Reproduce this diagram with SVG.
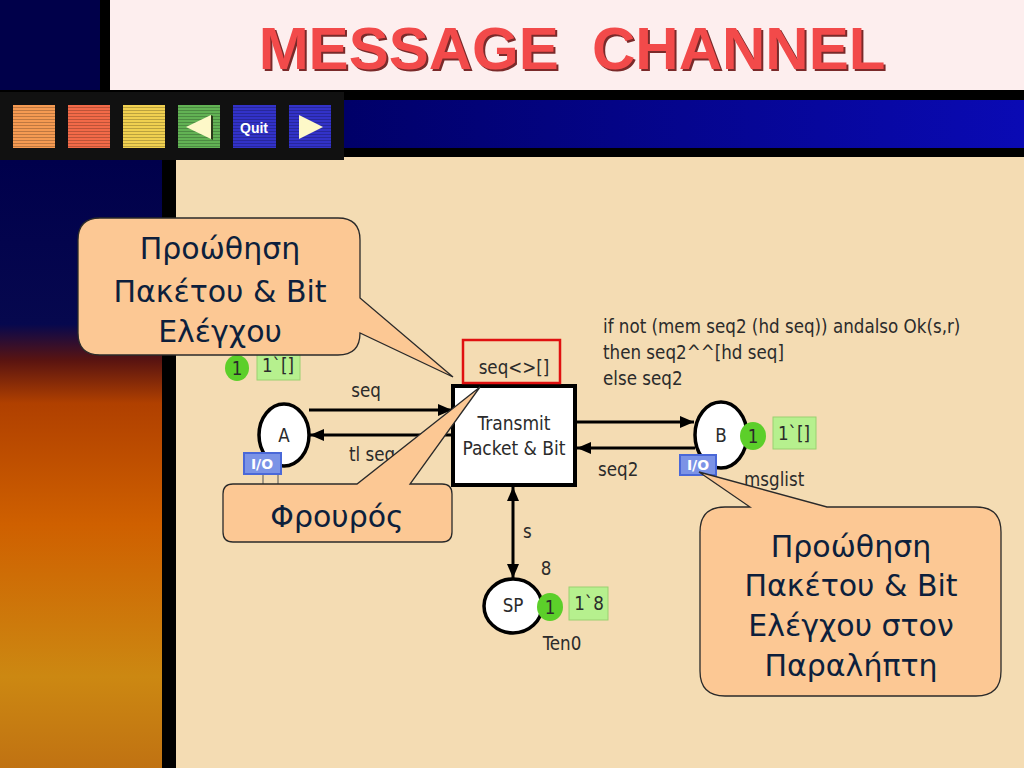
<svg xmlns="http://www.w3.org/2000/svg" width="1024" height="768" viewBox="0 0 1024 768">
<defs>
<linearGradient id="leftGrad" x1="0" y1="160" x2="0" y2="768" gradientUnits="userSpaceOnUse">
<stop offset="0" stop-color="#00004c"/>
<stop offset="0.27" stop-color="#06084e"/>
<stop offset="0.33" stop-color="#5a1410"/>
<stop offset="0.4" stop-color="#b04000"/>
<stop offset="0.6" stop-color="#cf6000"/>
<stop offset="0.85" stop-color="#cc8812"/>
<stop offset="1" stop-color="#c07212"/>
</linearGradient>
<linearGradient id="bandGrad" x1="0" y1="0" x2="1" y2="0">
<stop offset="0" stop-color="#000068"/>
<stop offset="1" stop-color="#0a0ab4"/>
</linearGradient>
<pattern id="stripes" x="0" y="0" width="4" height="3" patternUnits="userSpaceOnUse">
<rect x="0" y="2" width="4" height="1" fill="#000" fill-opacity="0.22"/>
</pattern>
<marker id="arr" viewBox="0 0 14 12" refX="14" refY="6" markerWidth="14" markerHeight="12" markerUnits="userSpaceOnUse" orient="auto-start-reverse">
<path d="M0,0 L14,6 L0,12 Z" fill="#000"/>
</marker>
<style>
.cpn{font-family:"DejaVu Sans Condensed","DejaVu Sans",sans-serif;font-size:18.6px;fill:#2b2b2b}
.tr{font-size:19px}
.place{fill:#fff;stroke:#000;stroke-width:3.5}
.arc{stroke:#000;stroke-width:3;fill:none}
.tokc{fill:#5ccf2a}
.tokb{fill:#b6f08e;stroke:#9ad070;stroke-width:1}
.io{fill:#7b93e6;stroke:#4a68d8;stroke-width:2}
.iot{font-family:"DejaVu Sans",sans-serif;font-size:14px;font-weight:bold;fill:#fff}
.callout{fill:#fcc894;stroke:#2a2a2a;stroke-width:1.3}
.ct{font-family:"DejaVu Sans",sans-serif;font-size:30px;fill:#0d1f3c;text-anchor:middle}
.btn{stroke:none}
</style>
</defs>

<!-- background -->
<rect x="0" y="0" width="1024" height="768" fill="#f4dcb3"/>
<rect x="0" y="0" width="100" height="92" fill="#00004a"/>
<rect x="100" y="0" width="10" height="92" fill="#000"/>
<rect x="110" y="0" width="914" height="90" fill="#fdeeee"/>
<rect x="0" y="90" width="1024" height="67" fill="#000"/>
<rect x="344" y="100" width="680" height="48" fill="url(#bandGrad)"/>
<rect x="0" y="160" width="162" height="608" fill="url(#leftGrad)"/>
<rect x="162" y="157" width="14" height="611" fill="#000"/>

<!-- title -->
<g id="title">
<text x="574" y="71" font-family="Liberation Sans, Arial, sans-serif" font-weight="bold" font-size="60" fill="#7a2a2a" text-anchor="middle" xml:space="preserve">MESSAGE  CHANNEL</text>
<text x="572" y="69" font-family="Liberation Sans, Arial, sans-serif" font-weight="bold" font-size="60" fill="#f24a4a" text-anchor="middle" xml:space="preserve">MESSAGE  CHANNEL</text>
</g>

<!-- nav bar -->
<g id="nav">
<rect x="0" y="92" width="344" height="68" fill="#111"/>
<rect class="btn" x="13" y="105" width="42" height="43" fill="#f59a52"/>
<rect class="btn" x="68" y="105" width="42" height="43" fill="#f26a48"/>
<rect class="btn" x="123" y="105" width="42" height="43" fill="#f0d050"/>
<rect class="btn" x="178" y="105" width="42" height="43" fill="#62b254"/>
<rect class="btn" x="233" y="105" width="43" height="43" fill="#3232c8"/>
<rect class="btn" x="289" y="105" width="42" height="43" fill="#3232c8"/>
<rect x="13" y="105" width="318" height="43" fill="url(#stripes)"/>
<rect x="55" y="105" width="13" height="43" fill="#111"/>
<rect x="110" y="105" width="13" height="43" fill="#111"/>
<rect x="165" y="105" width="13" height="43" fill="#111"/>
<rect x="220" y="105" width="13" height="43" fill="#111"/>
<rect x="276" y="105" width="13" height="43" fill="#111"/>
<path d="M186,127 L211,115 L211,139 Z" fill="#fdf8c8"/>
<path d="M211,115 L213,116 L213,140 L211,139 Z" fill="#2a3a1a"/>
<text x="254" y="133" font-family="Liberation Sans, Arial, sans-serif" font-weight="bold" font-size="14" fill="#fff" text-anchor="middle">Quit</text>
<path d="M299,115 L323,127 L299,139 Z" fill="#fdf8c8"/>
</g>

<!-- connectors -->
<g id="connectors">
<line class="arc" x1="309" y1="410" x2="452" y2="410" marker-end="url(#arr)"/>
<line class="arc" x1="453" y1="435" x2="310" y2="435" marker-end="url(#arr)"/>
<line class="arc" x1="575" y1="422" x2="694" y2="422" marker-end="url(#arr)"/>
<line class="arc" x1="695" y1="448" x2="577" y2="448" marker-end="url(#arr)"/>
<line class="arc" x1="513" y1="578" x2="513" y2="487" marker-start="url(#arr)" marker-end="url(#arr)"/>
<text class="cpn" x="366" y="397" text-anchor="middle">seq</text>
<text class="cpn" x="349" y="461">tl seq</text>
<text class="cpn" x="598" y="476">seq2</text>
<text class="cpn" x="523" y="538">s</text>
<text class="cpn" x="603" y="333">if not (mem seq2 (hd seq)) andalso Ok(s,r)</text>
<text class="cpn" x="603" y="359">then seq2^^[hd seq]</text>
<text class="cpn" x="603" y="385">else seq2</text>
</g>

<!-- place A -->
<g id="placeA">
<ellipse class="tokc" cx="237" cy="368" rx="12" ry="13"/>
<text class="cpn" x="237" y="375" text-anchor="middle" fill="#000">1</text>
<rect class="tokb" x="257" y="353" width="43" height="27"/>
<text class="cpn" x="278" y="372" text-anchor="middle">1`[]</text>
<ellipse class="place" cx="284" cy="435" rx="25" ry="31"/>
<text class="cpn" x="284" y="442" text-anchor="middle">A</text>
<line x1="263" y1="474" x2="263" y2="484" stroke="#555" stroke-width="1"/>
<line x1="278" y1="474" x2="278" y2="484" stroke="#555" stroke-width="1"/>
<rect class="io" x="244" y="453" width="37" height="21"/>
<text class="iot" x="262" y="469" text-anchor="middle">I/O</text>
</g>

<!-- transition -->
<g id="transition">
<rect x="453" y="386" width="122" height="99" fill="#fff" stroke="#000" stroke-width="4"/>
<text class="cpn tr" x="514" y="430" text-anchor="middle">Transmit</text>
<text class="cpn tr" x="514" y="455" text-anchor="middle">Packet &amp; Bit</text>
</g>

<!-- guard -->
<g id="guard">
<rect x="463" y="340" width="97" height="43" fill="none" stroke="#e01010" stroke-width="2.5"/>
<text class="cpn" x="514" y="374" text-anchor="middle">seq&lt;&gt;[]</text>
</g>

<!-- place B -->
<g id="placeB">
<ellipse class="place" cx="721" cy="435" rx="26" ry="33"/>
<text class="cpn" x="721" y="442" text-anchor="middle">B</text>
<ellipse class="tokc" cx="753" cy="436" rx="13" ry="14"/>
<text class="cpn" x="753" y="443" text-anchor="middle" fill="#000">1</text>
<rect class="tokb" x="773" y="417" width="43" height="32"/>
<text class="cpn" x="794" y="440" text-anchor="middle">1`[]</text>
<rect class="io" x="680" y="455" width="36" height="20"/>
<text class="iot" x="698" y="470" text-anchor="middle">I/O</text>
<text class="cpn" x="744" y="486">msglist</text>
</g>

<!-- place SP -->
<g id="placeSP">
<ellipse class="place" cx="513" cy="606" rx="29" ry="27"/>
<text class="cpn" x="513" y="612" text-anchor="middle">SP</text>
<text class="cpn" x="546" y="575" text-anchor="middle">8</text>
<ellipse class="tokc" cx="550" cy="607" rx="13" ry="14"/>
<text class="cpn" x="550" y="614" text-anchor="middle" fill="#000">1</text>
<rect class="tokb" x="569" y="587" width="39" height="33"/>
<text class="cpn" x="589" y="610" text-anchor="middle">1`8</text>
<text class="cpn" x="562" y="650" text-anchor="middle">Ten0</text>
</g>

<!-- callouts -->
<g id="callout1">
<path class="callout" d="M100,218 H338 Q360,218 360,240 V298 L453,377 L360,333 Q360,355 338,355 H100 Q78,355 78,333 V240 Q78,218 100,218 Z"/>
<text class="ct" x="220" y="259">Προώθηση</text>
<text class="ct" x="220" y="302">Πακέτου &amp; Bit</text>
<text class="ct" x="220" y="342">Ελέγχου</text>
</g>
<g id="callout2">
<path class="callout" d="M233,484 H357 L480,387 L410,484 H442 Q452,484 452,494 V532 Q452,542 442,542 H233 Q223,542 223,532 V494 Q223,484 233,484 Z"/>
<text class="ct" x="337" y="527">Φρουρός</text>
</g>
<g id="callout3">
<path class="callout" d="M725,507 H750 L699,472 L827,507 H976 Q1001,507 1001,532 V671 Q1001,696 976,696 H725 Q700,696 700,671 V532 Q700,507 725,507 Z"/>
<text class="ct" x="851" y="557">Προώθηση</text>
<text class="ct" x="851" y="596">Πακέτου &amp; Bit</text>
<text class="ct" x="851" y="636">Ελέγχου στον</text>
<text class="ct" x="851" y="676">Παραλήπτη</text>
</g>
</svg>
